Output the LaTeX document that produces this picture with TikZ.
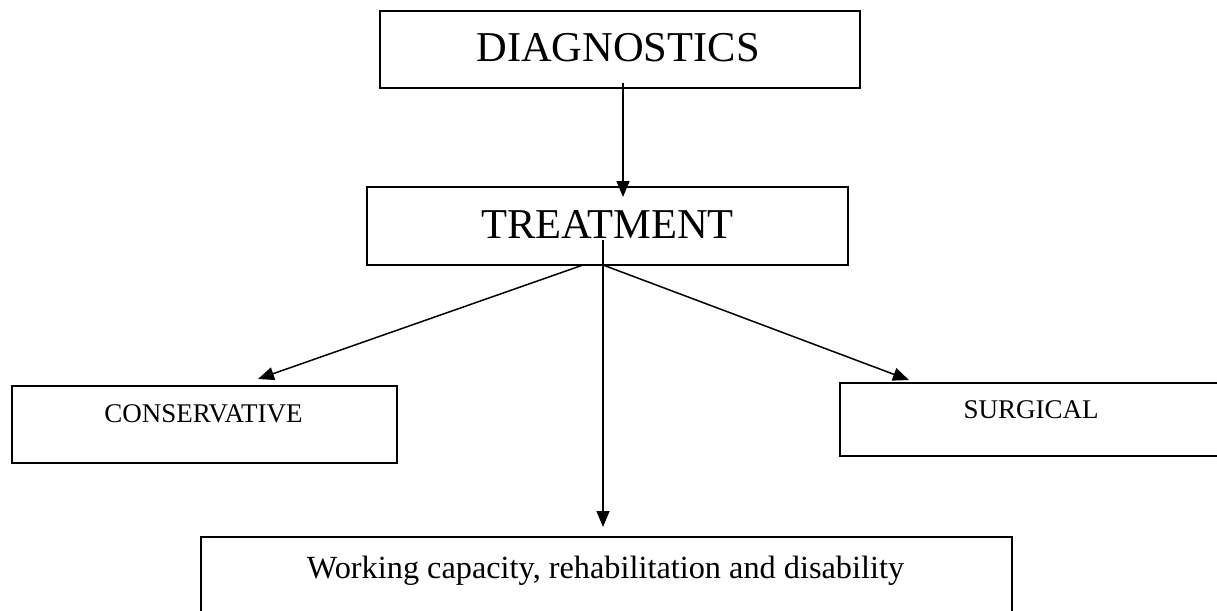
\documentclass[tikz,border=0pt]{standalone}
\usepackage{fontspec}
\setmainfont{Liberation Serif}
\usetikzlibrary{arrows.meta}
\begin{document}
\begin{tikzpicture}[x=1pt,y=-1pt,
  box/.style={draw=black,line width=1.7pt,rectangle,inner sep=0pt},
  bigtext/.style={anchor=base,inner sep=0pt,font=\fontsize{42.5}{42.5}\selectfont},
  smalltext/.style={anchor=base,inner sep=0pt,font=\fontsize{27}{27}\selectfont},
  midtext/.style={anchor=base,inner sep=0pt,font=\fontsize{32.3}{32.3}\selectfont},
  link/.style={draw=black,line width=1.5pt,-{Triangle[length=16pt,width=13pt]}}]
\useasboundingbox (0,0) rectangle (1217,610);
\clip (0,0) rectangle (1217,610);
\fill[white] (0,0) rectangle (1217,610);

% boxes
\node[box,minimum width=480pt,minimum height=77pt] (diag) at (620,49.5) {};
\node[box,minimum width=481pt,minimum height=78pt] (treat) at (607.5,226) {};
\node[box,minimum width=385pt,minimum height=77pt] (cons) at (204.5,424.5) {};
\node[box,minimum width=382pt,minimum height=73pt] (surg) at (1031,419.5) {};
\node[box,minimum width=811pt,minimum height=78pt] (work) at (606.5,576) {};

% labels
\node[bigtext] (diagtxt) at (618,62) {DIAGNOSTICS};
\node[bigtext] (treattxt) at (607.5,238) {TREATMENT};
\node[smalltext] (constxt) at (203.5,422) {CONSERVATIVE};
\node[smalltext] (surgtxt) at (1031,418) {SURGICAL};
\node[midtext] (worktxt) at (605.5,578) {Working capacity, rehabilitation and disability};

% connector ends
\coordinate (diagout) at (623,83);
\coordinate (treatin) at (623,197);
\coordinate (treatmid) at (603,240);
\coordinate (treatleft) at (583,265);
\coordinate (treatright) at (603,265);
\coordinate (consin) at (258,379);
\coordinate (surgin) at (909,380);
\coordinate (workin) at (603,527);

% connectors
\draw[link] (diagout) -- (treatin);
\draw[link] (treatmid) -- (workin);
\draw[link] (treatleft) -- (consin);
\draw[link] (treatright) -- (surgin);
\end{tikzpicture}
\end{document}
